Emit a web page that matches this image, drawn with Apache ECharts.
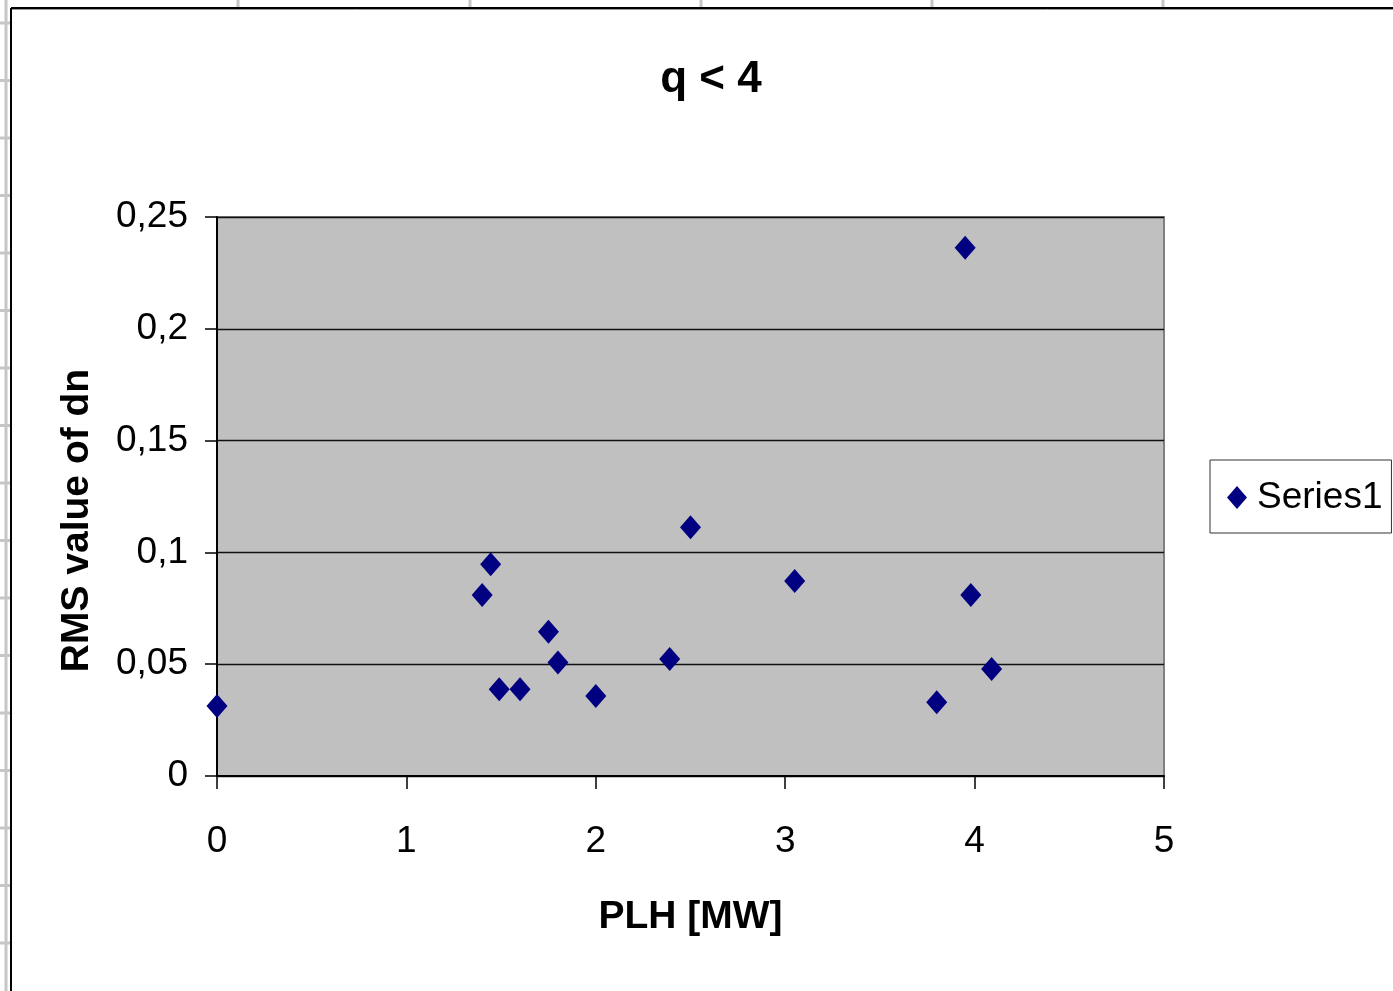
<!DOCTYPE html>
<html>
<head>
<meta charset="utf-8">
<title>q &lt; 4</title>
<script src="https://cdn.jsdelivr.net/npm/echarts@6/dist/echarts.min.js"></script>
<style>
  html, body { margin: 0; padding: 0; background: #ffffff; }
  #chart { width: 1393px; height: 991px; }
</style>
</head>
<body>
<div id="chart"></div>
<script>
// PLH [MW] against RMS value of dn, q < 4
const plh = [0, 1.40, 1.445, 1.49, 1.60, 1.75, 1.80, 2.00, 2.39, 2.50, 3.05, 3.80, 3.95, 3.98, 4.09];
const rmsDn = [0.0313, 0.081, 0.0947, 0.0388, 0.0388, 0.0645, 0.0508, 0.0358, 0.0523, 0.1112, 0.0872, 0.0330, 0.2363, 0.0810, 0.0479];
const seriesName = 'Series1';
const chartTitle = 'q < 4';
const xAxisTitle = 'PLH [MW]';
const yAxisTitle = 'RMS value of dn';

const points = plh.map((x, i) => [x, rmsDn[i]]);

// worksheet cell borders around the embedded chart
const sheetLines = [];
const greyLine = { stroke: '#c6c6c6', lineWidth: 3 };
sheetLines.push({ type: 'line', shape: { x1: 6, y1: 0, x2: 6, y2: 991 }, style: greyLine, silent: true });
for (let y = 23; y < 991; y += 57.5) {
  sheetLines.push({ type: 'line', shape: { x1: 0, y1: y, x2: 11, y2: y }, style: greyLine, silent: true });
}
[238, 470, 701, 932, 1163].forEach(x => {
  sheetLines.push({ type: 'line', shape: { x1: x, y1: 0, x2: x, y2: 8 }, style: greyLine, silent: true });
});
sheetLines.push({ type: 'line', shape: { x1: 11, y1: 9.5, x2: 1393, y2: 9.5 }, style: { stroke: '#9a9a9a', lineWidth: 1 }, silent: true });
sheetLines.push({ type: 'line', shape: { x1: 11, y1: 8, x2: 1393, y2: 8 }, style: { stroke: '#000', lineWidth: 2 }, silent: true });
sheetLines.push({ type: 'line', shape: { x1: 11, y1: 8, x2: 11, y2: 991 }, style: { stroke: '#000', lineWidth: 2 }, silent: true });

const chart = echarts.init(document.getElementById('chart'), null, { renderer: 'canvas' });

chart.setOption({
  backgroundColor: '#ffffff',
  animation: false,
  textStyle: { fontFamily: 'Liberation Sans, Arial, sans-serif' },
  title: {
    text: chartTitle,
    left: 706,
    top: 53,
    textAlign: 'center',
    textStyle: { fontFamily: 'Liberation Sans, Arial, sans-serif', fontWeight: 'bold', fontSize: 44, color: '#000' }
  },
  legend: {
    data: [seriesName],
    left: 1210,
    top: 460,
    orient: 'vertical',
    padding: [19, 9, 17, 17],
    itemWidth: 20,
    itemHeight: 23,
    borderColor: '#333',
    borderWidth: 1,
    backgroundColor: '#fff',
    textStyle: { fontFamily: 'Liberation Sans, Arial, sans-serif', fontSize: 37, color: '#000', padding: [0, 0, 0, 5] }
  },
  grid: {
    left: 217,
    right: 229,
    top: 217,
    bottom: 215,
    show: true,
    backgroundColor: '#c0c0c0',
    borderColor: '#808080',
    borderWidth: 2
  },
  xAxis: {
    type: 'value',
    min: 0,
    max: 5,
    interval: 1,
    name: xAxisTitle,
    nameLocation: 'middle',
    nameGap: 122,
    nameTextStyle: { fontFamily: 'Liberation Sans, Arial, sans-serif', fontWeight: 'bold', fontSize: 39, color: '#000' },
    axisLine: { show: true, onZero: false, lineStyle: { color: '#000', width: 2 } },
    axisTick: { show: true, inside: false, length: 13, lineStyle: { color: '#000', width: 1.5 } },
    axisLabel: { margin: 47, fontSize: 37, color: '#000', fontFamily: 'Liberation Sans, Arial, sans-serif' },
    splitLine: { show: false }
  },
  yAxis: {
    type: 'value',
    min: 0,
    max: 0.25,
    interval: 0.05,
    name: yAxisTitle,
    nameLocation: 'middle',
    nameGap: 120,
    nameTextStyle: { fontFamily: 'Liberation Sans, Arial, sans-serif', fontWeight: 'bold', fontSize: 39, color: '#000', padding: [0, 48, 0, 0] },
    axisLine: { show: true, onZero: false, lineStyle: { color: '#000', width: 2 } },
    axisTick: { show: true, inside: false, length: 12, lineStyle: { color: '#000', width: 1.5 } },
    axisLabel: {
      margin: 29,
      fontSize: 37,
      color: '#000',
      fontFamily: 'Liberation Sans, Arial, sans-serif',
      formatter: v => String(Math.round(v * 100) / 100).replace('.', ',')
    },
    splitLine: { show: true, lineStyle: { color: '#111', width: 1.3 } }
  },
  series: [{
    name: seriesName,
    type: 'scatter',
    data: points,
    symbol: 'diamond',
    symbolSize: [21, 24],
    itemStyle: { color: '#000080', opacity: 1 },
    z: 5
  }],
  graphic: sheetLines
});
</script>
</body>
</html>
